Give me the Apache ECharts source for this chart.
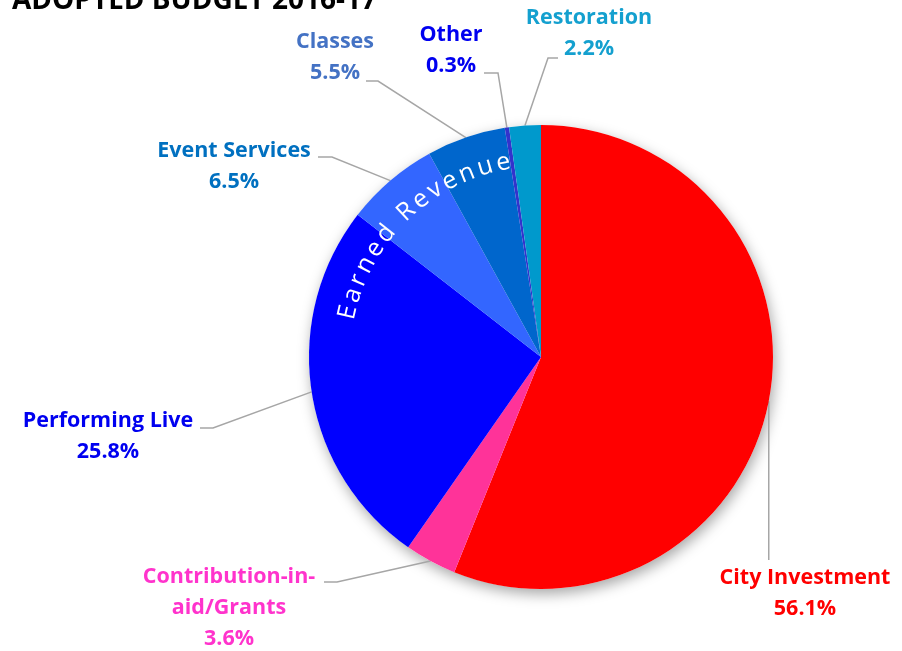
<!DOCTYPE html>
<html>
<head>
<meta charset="utf-8">
<script src="https://cdn.jsdelivr.net/npm/echarts@6/dist/echarts.min.js"></script>
<style>
html,body{margin:0;padding:0;background:#fff;}
#chart{width:902px;height:651px;}
</style>
</head>
<body>
<div id="chart"></div>
<script>
// ---- data ----
const titleText = 'ADOPTED BUDGET 2016-17';
const categories = ['City Investment', 'Contribution-in-\naid/Grants', 'Performing Live', 'Event Services', 'Classes', 'Other', 'Restoration'];
const shares = [56.1, 3.6, 25.8, 6.5, 5.5, 0.3, 2.2];
const groupLabel = 'Earned Revenue';

// ---- styles ----
const sliceColors = ['#FF0000', '#FF3399', '#0000FF', '#3366FF', '#0066CC', '#3333CC', '#0099CC'];
const labelColors = ['#FF0000', '#FF33CC', '#0000F0', '#0070C0', '#4472C4', '#0000F0', '#14A0CF'];
const FONT = '"Open Sans", "Noto Sans", sans-serif';
const CX = 541, CY = 357, R = 232;

// label placement (block centre) and line elbows
const labelPos = [
  {x: 805, y: 593, line: [[null, 560]]},
  {x: 229, y: 608, line: [[337, 582], [324, 582]]},
  {x: 108, y: 436, line: [[213, 428], [200, 428]]},
  {x: 234, y: 166, line: [[332, 157], [318, 157]]},
  {x: 335, y: 57,  line: [[378, 81], [366, 81]]},
  {x: 451, y: 50,  line: [[498, 73], [484, 73]]},
  {x: 589, y: 33,  line: [[548, 58], [558, 58]]}
];

const chart = echarts.init(document.getElementById('chart'), null, {renderer: 'canvas'});

// curved "Earned Revenue" text
function curvedText(text, startDeg, endDeg, radius, size) {
  const font = size + 'px ' + FONT;
  const c = document.createElement('canvas').getContext('2d');
  c.font = font;
  const widths = Array.from(text).map(ch => c.measureText(ch).width);
  const total = widths.reduce((a, b) => a + b, 0);
  const arc = (endDeg - startDeg) * Math.PI / 180 * radius;
  const extra = (arc - total + widths[0] / 2 + widths[widths.length - 1] / 2) / (text.length - 1);
  const els = [];
  let s = -widths[0] / 2;
  Array.from(text).forEach((ch, i) => {
    const centre = s + widths[i] / 2;
    s += widths[i] + extra;
    const th = (startDeg * Math.PI / 180) + centre / radius;
    els.push({
      type: 'text',
      x: CX + radius * Math.sin(th),
      y: CY - radius * Math.cos(th),
      rotation: -th,
      silent: true,
      z: 10,
      style: {text: ch, fill: '#FFFFFF', font: font, align: 'center', verticalAlign: 'middle'}
    });
  });
  return els;
}

const data = categories.map((name, i) => ({
  name: name,
  value: shares[i],
  itemStyle: {color: sliceColors[i]},
  label: {color: labelColors[i]}
}));

const option = {
  backgroundColor: '#FFFFFF',
  animation: false,
  title: {
    text: titleText,
    left: 7,
    top: -18,
    textStyle: {fontFamily: FONT, fontWeight: 'bold', fontSize: 28, color: '#000000'}
  },
  graphic: curvedText(groupLabel, -77, -11, 198, 25),
  series: [
    {
      type: 'pie',
      silent: true,
      center: [CX, CY],
      radius: R,
      z: 1,
      label: {show: false},
      labelLine: {show: false},
      itemStyle: {color: '#FFFFFF', shadowBlur: 14, shadowColor: 'rgba(0,0,0,0.35)', shadowOffsetX: 2, shadowOffsetY: 5},
      data: [{value: shares.reduce((a, b) => a + b, 0), name: ''}]
    },
    {
      type: 'pie',
      center: [CX, CY],
      radius: R,
      z: 2,
      startAngle: 90,
      clockwise: true,
      data: data,
      itemStyle: {borderWidth: 0},
      label: {
        show: true,
        position: 'outside',
        overflow: 'none',
        fontFamily: FONT,
        fontWeight: 'bold',
        fontSize: 21.5,
        lineHeight: 31,
        align: 'center',
        formatter: p => p.name + '\n' + p.value.toFixed(1) + '%'
      },
      labelLine: {show: true, length: 10, length2: 10, lineStyle: {color: '#A6A6A6', width: 1.5}},
      labelLayout: function (params) {
        const i = params.dataIndex;
        const lp = labelPos[i];
        const a = params.labelLinePoints ? params.labelLinePoints[0] : [CX, CY];
        const pts = [[a[0], a[1]]].concat(lp.line.map(p => [p[0] === null ? a[0] : p[0], p[1]]));
        return {
          x: lp.x,
          y: lp.y,
          align: 'center',
          verticalAlign: 'middle',
          labelLinePoints: pts
        };
      }
    }
  ]
};
chart.setOption(option);
</script>
</body>
</html>
